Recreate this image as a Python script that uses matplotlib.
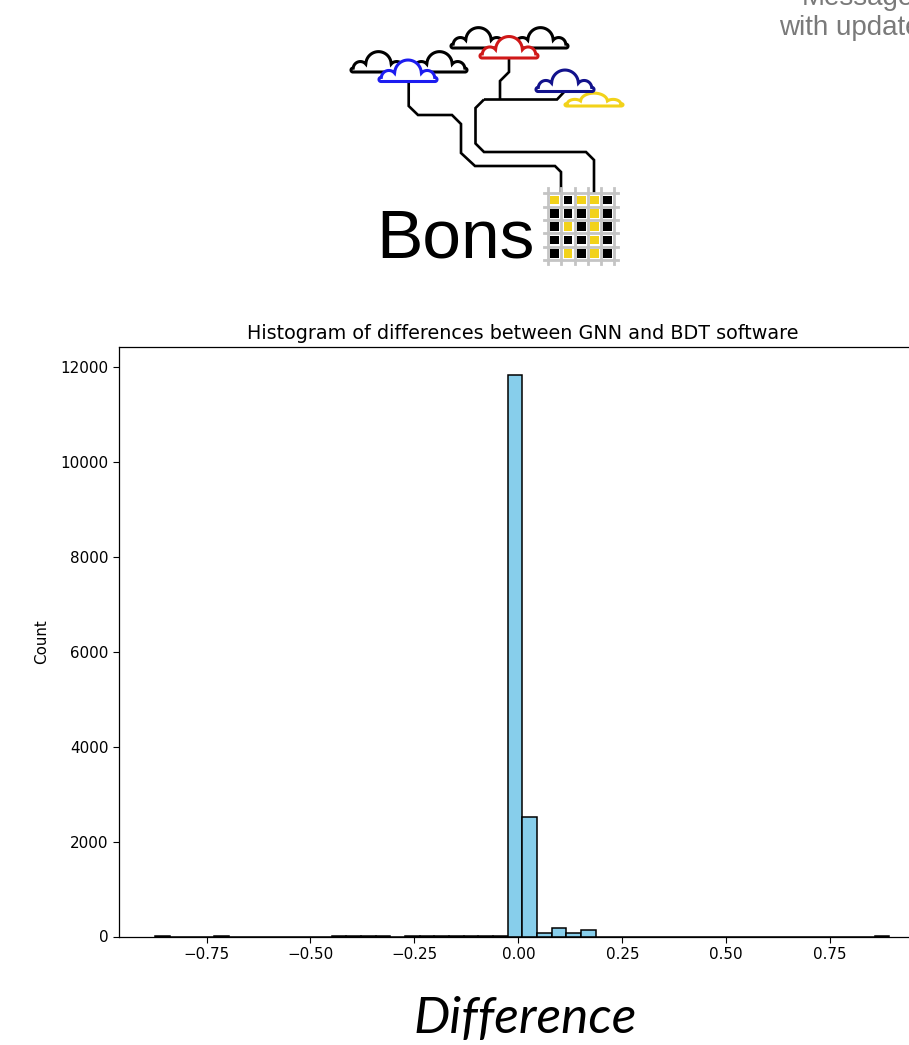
import numpy as np
import matplotlib
matplotlib.use("Agg")
import matplotlib.pyplot as plt
from matplotlib.patches import Polygon, Rectangle

# ---------------- data ----------------
title = "Histogram of differences between GNN and BDT software"
xlabel = "Difference"
ylabel = "Count"
bin_range = (-0.873, 0.892)
n_bins = 50
counts = [8, 0, 0, 0, 8, 0, 0, 0, 0, 0,
          0, 0, 5, 5, 5, 5, 0, 5, 5, 5,
          5, 5, 5, 15, 11830, 2520, 80, 185, 65, 135,
          0, 0, 0, 0, 0, 0, 0, 0, 0, 0,
          0, 0, 0, 0, 0, 0, 0, 0, 0, 1]
header_lines = ["Message", "with updates"]
logo_word = "Bons"
grid_pattern = ["YBYYB",
                "BBBYB",
                "BYBYB",
                "BBBYB",
                "BYBYB"]

W, H = 909, 1045
plt.rcParams["font.size"] = 10.9
fig = plt.figure(figsize=(W / 100, H / 100), dpi=100)

# ---------------- histogram ----------------
ax = fig.add_axes([118.7 / W, (H - 936.5) / H, (926 - 118.7) / W, (936.5 - 347.3) / H])
edges = np.histogram_bin_edges([], bins=n_bins, range=bin_range)
centers = 0.5 * (edges[:-1] + edges[1:])
ax.hist(centers, bins=edges, weights=counts, color="skyblue",
        edgecolor="black", linewidth=1.1)
ax.set_title(title, fontsize=13.8, pad=6)
ax.set_ylabel(ylabel, labelpad=8)
ax.set_xticks([-0.75, -0.5, -0.25, 0.0, 0.25, 0.5, 0.75])
ax.set_yticks([0, 2000, 4000, 6000, 8000, 10000, 12000])
ax.tick_params(length=4)
for s in ax.spines.values():
    s.set_linewidth(0.9)

fig.text(525 / W, 1 - 1033 / H, xlabel, fontsize=37, style="italic",
         family=["Lato", "DejaVu Sans"], ha="center", va="baseline")

# ---------------- logo overlay ----------------
lg = fig.add_axes([0, 0, 1, 1], zorder=5)
lg.set_xlim(0, W)
lg.set_ylim(H, 0)
lg.axis("off")
lg.patch.set_alpha(0)

END_R = 0.035
BODY_H = 0.07
bumps = [(0.17, 0.06, 0.13), (0.50, 0.14, 0.23), (0.83, 0.06, 0.13)]


def cloud(x0, yb, w, color, ys=1.0, z=3, lw=2.2):
    xs = np.linspace(0, 1, 700)
    top = np.empty_like(xs)
    bot = np.empty_like(xs)
    for i, x in enumerate(xs):
        # body: rounded-end bar
        if x < END_R:
            d = np.sqrt(max(END_R ** 2 - (x - END_R) ** 2, 0))
            t, b = END_R + d, END_R - d
        elif x > 1 - END_R:
            d = np.sqrt(max(END_R ** 2 - (x - 1 + END_R) ** 2, 0))
            t, b = END_R + d, END_R - d
        else:
            t, b = BODY_H, 0.0
        for cx, cy, r in bumps:
            d = r * r - (x - cx) ** 2
            if d >= 0:
                t = max(t, cy + np.sqrt(d))
        top[i] = t
        bot[i] = b
    px = x0 + xs * w
    pts = np.concatenate([np.c_[px, yb - top * w * ys],
                          np.c_[px[::-1], (yb - bot * w * ys)[::-1]]])
    lg.add_patch(Polygon(pts, closed=True, facecolor="white",
                         edgecolor=color, lw=lw, zorder=z, joinstyle="miter"))


def wire(pts):
    p = np.array(pts, dtype=float)
    lg.plot(p[:, 0], p[:, 1], color="black", lw=1.9, zorder=2,
            solid_joinstyle="miter", solid_capstyle="butt")


# wires
wire([(408.7, 80), (408.7, 106), (418, 115), (452, 115), (461, 124),
      (461, 153), (475, 166), (555, 166), (561, 172), (561, 193)])
wire([(509, 57), (509, 72), (500, 81), (500, 99.5)])
wire([(484, 99.5), (557, 99.5), (565, 91)])
wire([(484, 99.5), (475.5, 108), (475.5, 143.5), (484, 152), (586, 152),
      (594, 160), (594, 193)])

# clouds (back to front)
cloud(351, 72, 55, "black", z=3)
cloud(412, 72, 55, "black", z=3)
cloud(379, 81.5, 58, "#1c1cf0", z=4)
cloud(451, 48, 55, "black", z=3)
cloud(513, 48, 55, "black", z=3)
cloud(480, 58, 58, "#d01818", z=4)
cloud(565, 106, 58, "#f2d21a", ys=0.6, z=3)
cloud(536, 91.5, 58, "#12128c", z=4)

# grid block
vx = [548, 561, 574.5, 588, 601, 614]
hy = [193, 206.5, 220, 233, 246.5, 260]
for x in vx:
    lg.plot([x, x], [188, 264], color="#c4c4c4", lw=2.0, zorder=6)
for y in hy:
    lg.plot([544, 618], [y, y], color="#c4c4c4", lw=2.0, zorder=6)
sq = 8.5
for r, row in enumerate(grid_pattern):
    for c, ch in enumerate(row):
        cx = 0.5 * (vx[c] + vx[c + 1])
        cy = 0.5 * (hy[r] + hy[r + 1])
        col = "#f2d21a" if ch == "Y" else "black"
        lg.add_patch(Rectangle((cx - sq / 2, cy - sq / 2), sq, sq,
                               facecolor=col, edgecolor="none", zorder=7))

lg.text(376, 257, logo_word, fontsize=50, family="Liberation Sans",
        color="black", ha="left", va="baseline", zorder=8)

# header text (cut off at top right, as in the source slide)
lg.text(802, 5, header_lines[0], fontsize=20, family="Liberation Sans",
        color="#7a7a7a", ha="left", va="baseline")
lg.text(779, 35, header_lines[1], fontsize=20, family="Liberation Sans",
        color="#7a7a7a", ha="left", va="baseline")

fig.savefig("out.png", dpi=100)
